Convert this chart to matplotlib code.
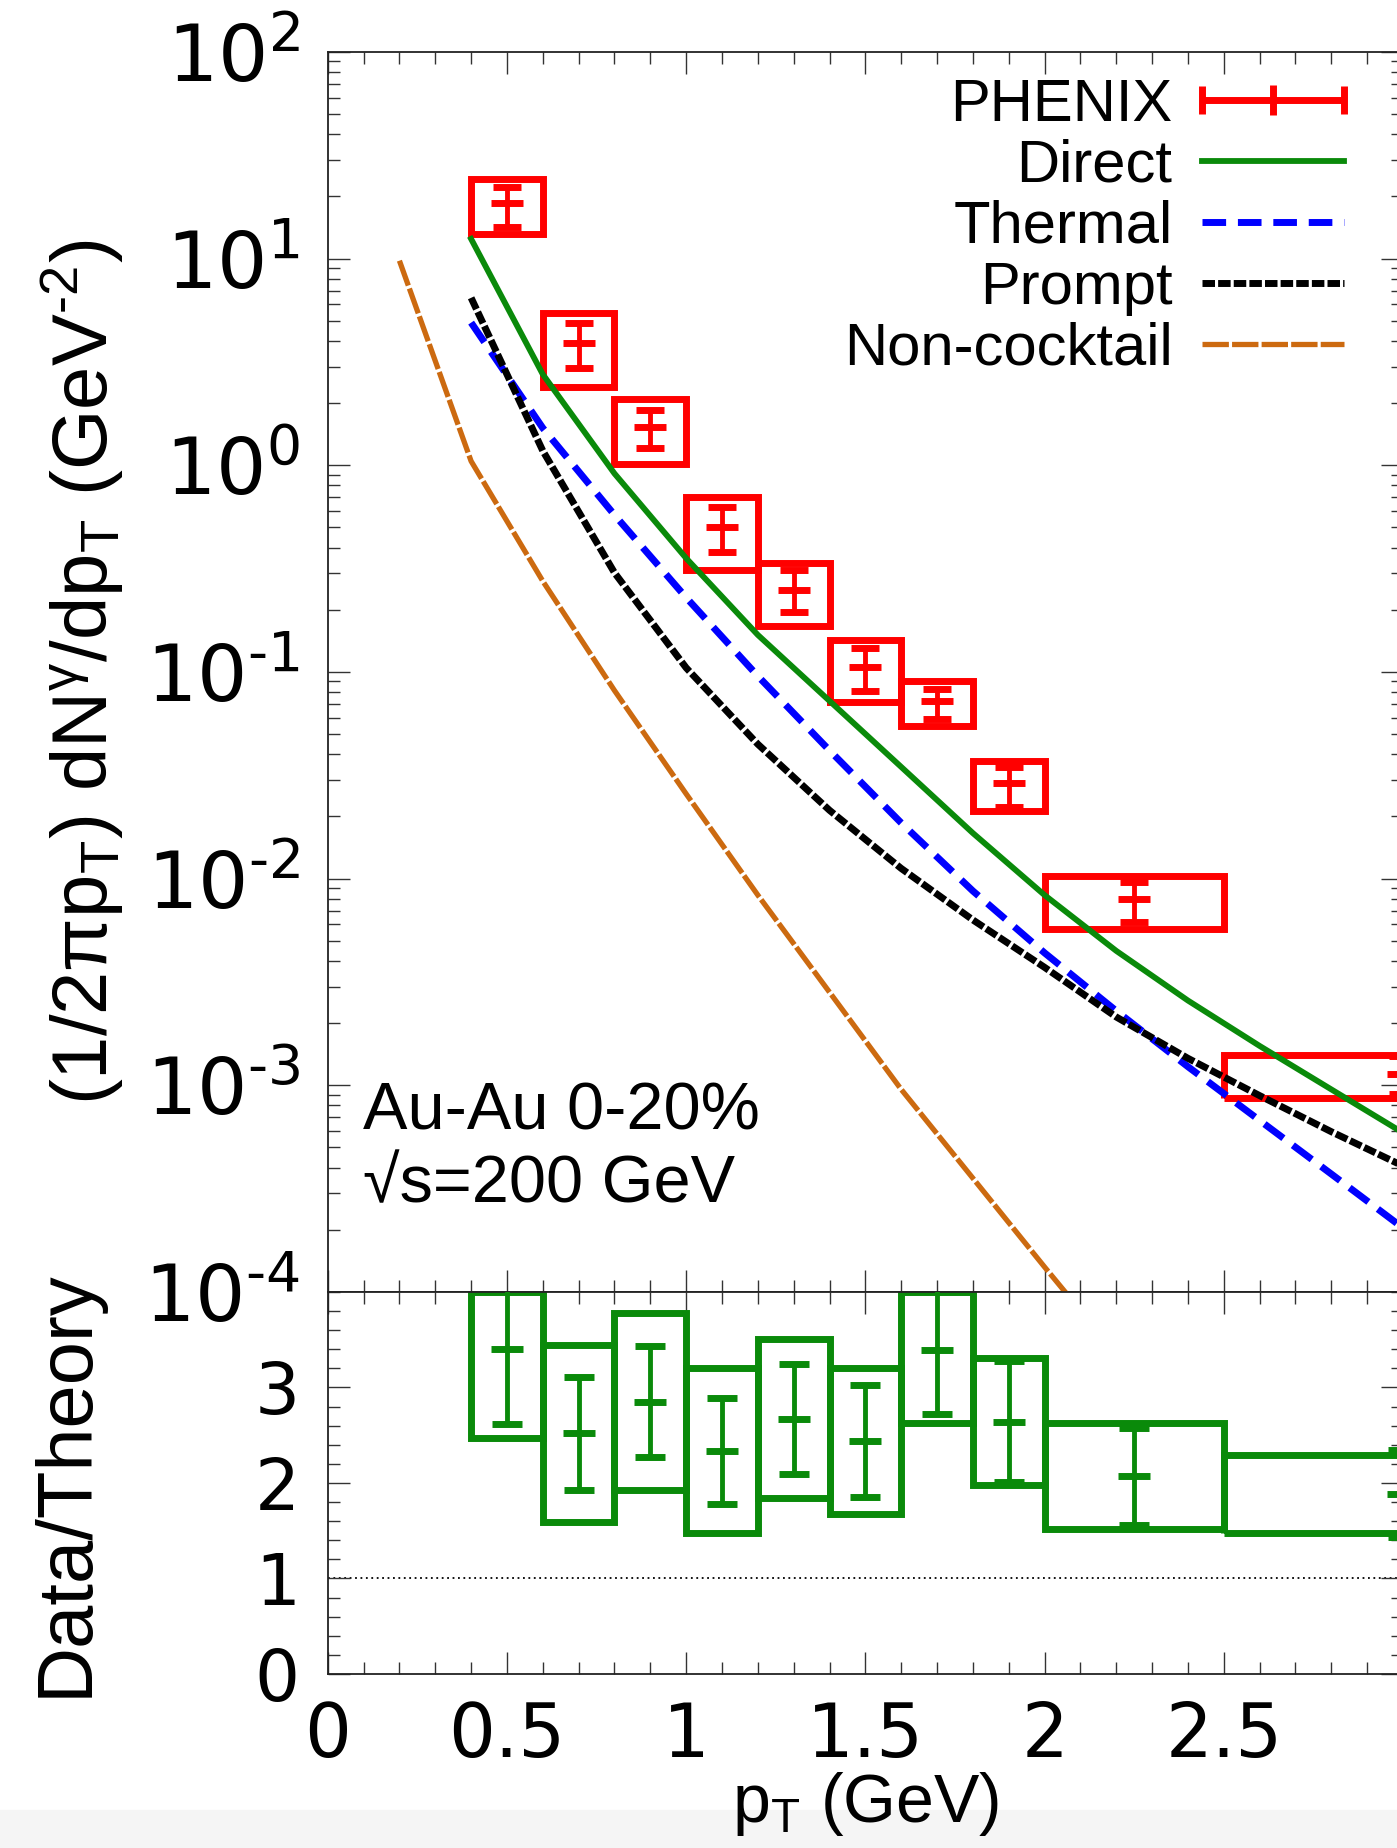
import numpy as np
import matplotlib
matplotlib.use("Agg")
import matplotlib.pyplot as plt
from matplotlib.ticker import MultipleLocator, LogLocator, NullFormatter, FuncFormatter
from matplotlib.legend_handler import HandlerErrorbar
from matplotlib.container import ErrorbarContainer
from matplotlib.patches import Rectangle

plt.rcParams["mathtext.fontset"] = "custom"
plt.rcParams["mathtext.rm"] = "Liberation Sans"
plt.rcParams["mathtext.it"] = "Liberation Sans:italic"
plt.rcParams["mathtext.bf"] = "Liberation Sans:bold"

# PHENIX Au-Au 0-20% direct photons
pt_c = [0.5, 0.7, 0.9, 1.1, 1.3, 1.5, 1.7, 1.9, 2.25, 3.0]
pt_lo = [0.4, 0.6, 0.8, 1.0, 1.2, 1.4, 1.6, 1.8, 2.0, 2.5]
pt_hi = [0.6, 0.8, 1.0, 1.2, 1.4, 1.6, 1.8, 2.0, 2.5, 3.5]
phx_y = [18.5, 3.89, 1.54, 0.501, 0.2495, 0.1062, 0.0726, 0.0289, 0.00798, 0.00114]
phx_stat_lo = [14.16, 2.944, 1.216, 0.382, 0.196, 0.0809, 0.0590, 0.0223, 0.00619, 0.000912]
phx_stat_hi = [22.28, 4.90, 1.854, 0.631, 0.311, 0.1303, 0.0824, 0.0348, 0.00962, 0.00138]
phx_sys_lo = [13.15, 2.399, 1.014, 0.311, 0.1675, 0.0713, 0.0548, 0.0213, 0.00569, 0.000867]
phx_sys_hi = [24.21, 5.43, 2.094, 0.705, 0.336, 0.1429, 0.0906, 0.0372, 0.0103, 0.00140]

# theory curves
pt_th = [0.4, 0.6, 0.8, 1.0, 1.2, 1.4, 1.6, 1.8, 2.0, 2.2, 2.4, 2.6, 2.8, 3.0]
direct = [12.45, 2.754, 0.912, 0.355, 0.151, 0.0724, 0.0347, 0.0166, 0.00832,
          0.00447, 0.00257, 0.00155, 0.000955, 0.000589]
thermal = [4.90, 1.514, 0.575, 0.229, 0.0955, 0.0417, 0.0186, 0.00871, 0.00437,
           0.00229, 0.00123, 0.000676, 0.000372, 0.000204]
prompt = [6.46, 1.175, 0.302, 0.1047, 0.0447, 0.0214, 0.0112, 0.00631, 0.00372,
          0.00214, 0.00135, 0.000891, 0.000596, 0.000407]
pt_nc = [0.2, 0.4, 0.6, 0.8, 1.0, 1.2, 1.4, 1.6, 1.8, 2.0, 2.2]
noncocktail = [9.77, 1.047, 0.275, 0.0813, 0.0257, 0.00832, 0.00282, 0.000955,
               0.000355, 0.000132, 0.0000501]

# data / theory
ratio = [3.40, 2.518, 2.85, 2.337, 2.668, 2.441, 3.39, 2.64, 2.07, 1.88]
ratio_stat_lo = [2.62, 1.925, 2.267, 1.779, 2.089, 1.855, 2.727, 2.005, 1.559, 1.437]
ratio_stat_hi = [4.18, 3.11, 3.435, 2.894, 3.25, 3.03, 4.05, 3.278, 2.57, 2.343]
ratio_sys_lo = [2.47, 1.594, 1.925, 1.472, 1.838, 1.67, 2.63, 1.977, 1.513, 1.472]
ratio_sys_hi = [4.0, 3.44, 3.784, 3.205, 3.505, 3.205, 4.0, 3.313, 2.623, 2.29]

red = "#ff0000"
green = "#0a8a0a"
blue = "#0000ff"
orange = "#cc6a10"


def log_label(v, pos):
    e = int(round(np.log10(v)))
    return r"$\mathdefault{10^{%s}}$" % str(e).replace("-", "\u2010")


fig = plt.figure(figsize=(13.97, 18.48), dpi=100)
fig.add_artist(Rectangle((0, 0), 1, 38 / 1848, transform=fig.transFigure,
                         color="#f5f5f5", zorder=-1))
ax = fig.add_axes([0.2346, 0.3009, 0.7697, 0.6710])
ax2 = fig.add_axes([0.2346, 0.0942, 0.7697, 0.2067], sharex=ax)

widths = np.subtract(pt_hi, pt_lo)

# upper panel
ax.bar(pt_lo, np.subtract(phx_sys_hi, phx_sys_lo), bottom=phx_sys_lo, width=widths,
       align="edge", fill=False, edgecolor=red, linewidth=5, zorder=2)
ax.errorbar(pt_c, phx_y,
            yerr=[np.subtract(phx_y, phx_stat_lo), np.subtract(phx_stat_hi, phx_y)],
            fmt="_", ms=23, mew=5, color=red, elinewidth=3.5, capsize=10, capthick=5,
            zorder=3)
l_dir, = ax.plot(pt_th, direct, color=green, lw=4.2, zorder=4)
l_th, = ax.plot(pt_th, thermal, color=blue, lw=5, ls=(0, (3.4, 1.7)), zorder=4)
l_pr, = ax.plot(pt_th, prompt, color="black", lw=5, ls=(0, (1.8, 0.45)), zorder=4)
l_nc, = ax.plot(pt_nc, noncocktail, color=orange, lw=3.8, ls=(0, (5, 0.6)), zorder=4)

# legend proxy: horizontal bar with caps as in the original key
phx_key = ax.errorbar([np.nan], [np.nan], xerr=[[0.0], [0.0]], fmt="|", ms=22, mew=5,
                      color=red, elinewidth=5, capsize=10, capthick=5)

ax.set_yscale("log")
ax.set_ylim(1e-4, 1e2)
ax.set_xlim(0, 3)
ax.yaxis.set_major_locator(LogLocator(base=10, numticks=10))
ax.yaxis.set_major_formatter(FuncFormatter(log_label))
ax.yaxis.set_minor_locator(LogLocator(base=10, subs=np.arange(2, 10), numticks=20))
ax.yaxis.set_minor_formatter(NullFormatter())
ax.tick_params(labelbottom=False)

leg_fs = 43
leg = ax.legend([phx_key, l_dir, l_th, l_pr, l_nc],
                ["PHENIX", "Direct", "Thermal", "Prompt", "Non-cocktail"],
                handler_map={ErrorbarContainer: HandlerErrorbar(xerr_size=1.19)},
                loc="upper right", bbox_to_anchor=(0.945, 0.979), frameon=False,
                markerfirst=False, handlelength=2.38, handletextpad=0.49,
                labelspacing=0.1, borderpad=0, borderaxespad=0,
                prop={"family": "Liberation Sans", "size": leg_fs})

ax.text(0.033, 0.0726, "Au-Au 0-20%\n\u221as=200 GeV", transform=ax.transAxes,
        ha="left", va="baseline", fontsize=48, family="Liberation Sans",
        linespacing=1.22)

ax.set_ylabel("(1/2$\\mathrm{\\pi}$p$_{\\mathrm{T}}$) dN$^{\\mathrm{\\gamma}}$/dp$_{\\mathrm{T}}$ (GeV$^{\\mathrm{\u20102}}$)",
              fontsize=56, family="Liberation Sans")
ax.yaxis.set_label_coords(-0.188, 0.5)

# lower panel
ax2.bar(pt_lo, np.subtract(ratio_sys_hi, ratio_sys_lo), bottom=ratio_sys_lo, width=widths,
        align="edge", fill=False, edgecolor=green, linewidth=5, zorder=2)
ax2.errorbar(pt_c, ratio,
             yerr=[np.subtract(ratio, ratio_stat_lo), np.subtract(ratio_stat_hi, ratio)],
             fmt="_", ms=23, mew=5, color=green, elinewidth=3.5, capsize=11, capthick=5,
             zorder=3)
ax2.axhline(1, color="black", lw=1.3, ls=(0, (1, 2)), zorder=1)
ax2.set_ylim(0, 4)
ax2.set_yticks([0, 1, 2, 3])
ax2.yaxis.set_minor_locator(MultipleLocator(0.2))
ax2.xaxis.set_major_locator(MultipleLocator(0.5))
ax2.xaxis.set_minor_locator(MultipleLocator(0.1))
ax2.xaxis.set_major_formatter(FuncFormatter(lambda v, p: "" if v > 2.99 else "%g" % v))
ax2.set_ylabel("Data/Theory", fontsize=56, family="Liberation Sans")
ax2.yaxis.set_label_coords(-0.209, 0.5)
ax2.set_xlabel(r"p$_{\mathrm{T}}$ (GeV)", fontsize=49, family="Liberation Sans")
ax2.xaxis.set_label_coords(0.5, -0.251)

for a in (ax, ax2):
    a.tick_params(which="both", direction="in", top=True, right=True, width=1.0,
                  color="#333333", labelsize=51, pad=20)
    a.tick_params(which="major", length=16)
    a.tick_params(which="minor", length=8.5)
    for s in a.spines.values():
        s.set_linewidth(1.3)
        s.set_color("#222222")
ax.tick_params(axis="y", labelsize=57)
ax2.tick_params(axis="x", pad=19, labelsize=53)

fig.savefig("out.png", dpi=100)
